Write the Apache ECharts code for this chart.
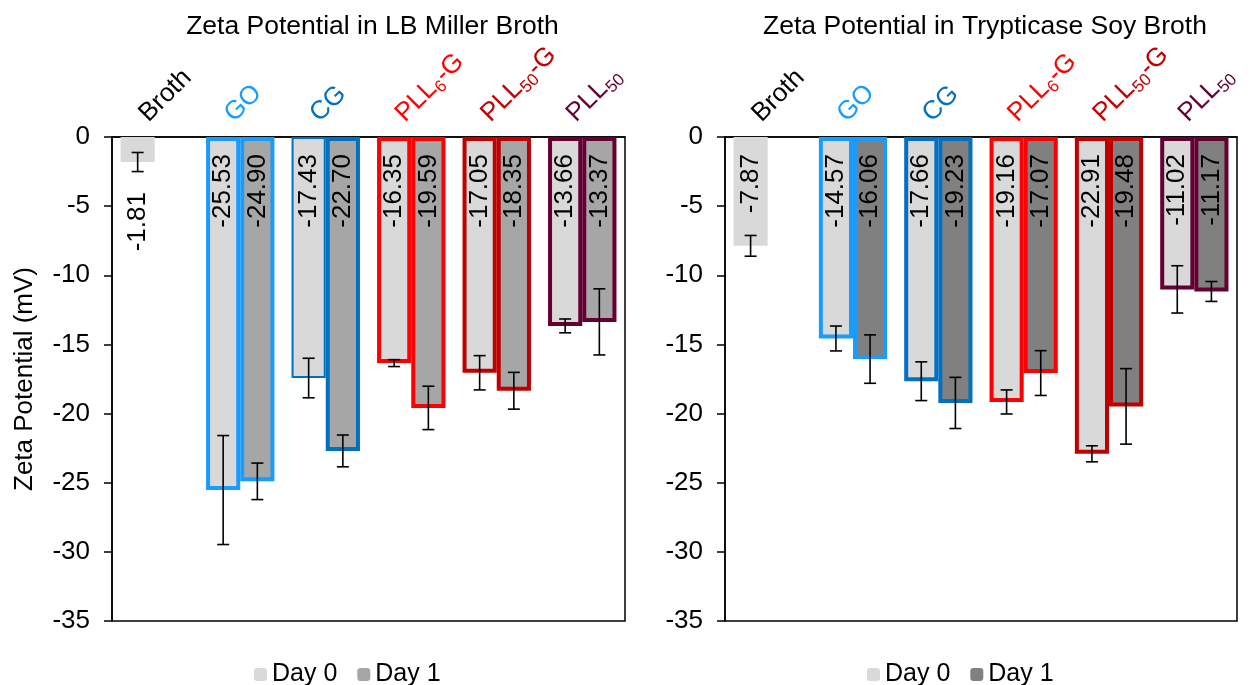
<!DOCTYPE html>
<html>
<head>
<meta charset="utf-8">
<script src="https://cdn.jsdelivr.net/npm/echarts@6/dist/echarts.min.js"></script>
<style>
html,body{margin:0;padding:0;background:#fff;}
#chart{width:1252px;height:685px;}
</style>
</head>
<body>
<div id="chart"></div>
<script>
// ---- data ----
const categories = ['Broth', 'GO', 'CG', 'PLL6-G', 'PLL50-G', 'PLL50'];
const lbDay0 = [-1.81, -25.53, -17.43, -16.35, -17.05, -13.66];
const lbDay1 = [null, -24.90, -22.70, -19.59, -18.35, -13.37];
const lbErr0 = [0.69, 3.94, 1.43, 0.25, 1.24, 0.50];
const lbErr1 = [null, 1.32, 1.15, 1.57, 1.33, 2.39];
const tsbDay0 = [-7.87, -14.57, -17.66, -19.16, -22.91, -11.02];
const tsbDay1 = [null, -16.06, -19.23, -17.07, -19.48, -11.17];
const tsbErr0 = [0.75, 0.90, 1.40, 0.87, 0.58, 1.71];
const tsbErr1 = [null, 1.75, 1.85, 1.62, 2.73, 0.72];
const yMin = -35, yMax = 0, yStep = 5;
const titles = ['Zeta Potential in LB Miller Broth', 'Zeta Potential in Trypticase Soy Broth'];
const yName = 'Zeta Potential (mV)';
const legendNames = ['Day 0', 'Day 1'];

// ---- styles ----
const FONT = 'Liberation Sans, Arial, sans-serif';
const catColors = ['#000000', '#199BFF', '#0070C0', '#FF0000', '#C00000', '#660033'];
const day0Fill = '#D9D9D9';
const day1Fills = ['#A6A6A6', '#808080'];

function barItems(values, fill, chartIdx, dayIdx) {
  return values.map((v, i) => {
    if (v == null) return null;
    const item = { value: v, itemStyle: { color: fill } };
    if (i > 0) {
      let bw = 4;
      if (chartIdx === 0 && dayIdx === 0 && i === 2) bw = 2;
      item.itemStyle.borderColor = catColors[i];
      item.itemStyle.borderWidth = bw;
    }
    if (chartIdx === 0 && i === 0) {
      item.label = { position: 'bottom', distance: 30 };
    }
    return item;
  });
}

function errData(values, errs) {
  const out = [];
  values.forEach((v, i) => { if (v != null && errs[i] != null) out.push([i, v, errs[i]]); });
  return out;
}

function errRender(offset) {
  return function (params, api) {
    const cat = api.value(0), v = api.value(1), e = api.value(2);
    const band = api.size([1, 0])[0];
    const a = api.coord([cat, v + e]);
    const b = api.coord([cat, v - e]);
    const x = a[0] + offset * band;
    const cap = 6;
    const st = { stroke: '#000', lineWidth: 1.6 };
    return {
      type: 'group',
      children: [
        { type: 'line', shape: { x1: x, y1: a[1], x2: x, y2: b[1] }, style: st },
        { type: 'line', shape: { x1: x - cap, y1: a[1], x2: x + cap, y2: a[1] }, style: st },
        { type: 'line', shape: { x1: x - cap, y1: b[1], x2: x + cap, y2: b[1] }, style: st }
      ]
    };
  };
}

const rich = {};
const keys = ['c0', 'c1', 'c2', 'c3', 'c4', 'c5'];
keys.forEach((k, i) => {
  rich[k] = { color: catColors[i], fontSize: 26, fontFamily: FONT, lineHeight: 32, verticalAlign: 'middle' };
  rich[k + 's'] = { color: catColors[i], fontSize: 17, fontFamily: FONT, lineHeight: 16, verticalAlign: 'bottom' };
});
function catFormatter(val) {
  const i = categories.indexOf(val);
  const k = keys[i];
  const m = val.match(/^([A-Za-z]+)(\d+)(.*)$/);
  if (m) {
    let s = '{' + k + '|' + m[1] + '}{' + k + 's|' + m[2] + '}';
    if (m[3]) s += '{' + k + '|' + m[3] + '}';
    return s;
  }
  return '{' + k + '|' + val + '}';
}

const grids = [
  { left: 112, top: 137, width: 513, height: 484 },
  { left: 725, top: 137, width: 512, height: 484 }
];

const option = {
  animation: false,
  backgroundColor: '#fff',
  title: titles.map((t, i) => ({
    text: t,
    left: grids[i].left + grids[i].width / 2 - 1,
    top: 8,
    textAlign: 'center',
    textStyle: { fontSize: 26.5, fontWeight: 'normal', color: '#000', fontFamily: FONT }
  })),
  grid: grids.map(g => Object.assign({ show: true, borderColor: '#000', borderWidth: 1.5, backgroundColor: 'transparent' }, g)),
  xAxis: grids.map((g, i) => ({
    type: 'category',
    gridIndex: i,
    position: 'top',
    data: categories,
    axisLine: { show: true, lineStyle: { color: '#000', width: 1.5 } },
    axisTick: { show: false },
    axisLabel: {
      interval: 0, rotate: 45, margin: 8, align: 'left', verticalAlign: 'bottom',
      formatter: catFormatter, rich: rich
    }
  })),
  yAxis: grids.map((g, i) => ({
    type: 'value',
    gridIndex: i,
    min: yMin, max: yMax, interval: yStep,
    name: i === 0 ? yName : '',
    nameLocation: 'middle',
    nameGap: 74,
    nameRotate: 90,
    nameTextStyle: { fontSize: 26, color: '#000', fontFamily: FONT },
    splitLine: { show: false },
    axisLine: { show: true, lineStyle: { color: '#000', width: 1.5 } },
    axisTick: { show: true, inside: false, length: 8, lineStyle: { color: '#000', width: 1.5 } },
    axisLabel: { fontSize: 26, color: '#000', fontFamily: FONT, margin: 22 }
  })),
  legend: [
    {
      data: legendNames, left: 249, top: 657, itemWidth: 13, itemHeight: 13, itemGap: 20,
      selectedMode: false, itemStyle: { borderWidth: 0 },
      textStyle: { fontSize: 25, color: '#000', fontFamily: FONT }
    },
    {
      data: legendNames.map(n => 'TSB ' + n), left: 862, top: 657, itemWidth: 13, itemHeight: 13, itemGap: 20,
      selectedMode: false, itemStyle: { borderWidth: 0 },
      formatter: n => n.replace('TSB ', ''),
      textStyle: { fontSize: 25, color: '#000', fontFamily: FONT }
    }
  ],
  series: []
};

const sets = [
  { d0: lbDay0, d1: lbDay1, e0: lbErr0, e1: lbErr1, prefix: '' },
  { d0: tsbDay0, d1: tsbDay1, e0: tsbErr0, e1: tsbErr1, prefix: 'TSB ' }
];
const barLabel = {
  show: true, position: 'insideTop', distance: 17, rotate: 90, align: 'right', verticalAlign: 'middle',
  fontSize: 26, color: '#000', fontFamily: FONT,
  formatter: p => Number(p.value).toFixed(2)
};
sets.forEach((s, ci) => {
  option.series.push({
    name: s.prefix + legendNames[0], type: 'bar', xAxisIndex: ci, yAxisIndex: ci,
    barGap: '0%', barCategoryGap: '20%', itemStyle: { color: day0Fill },
    label: barLabel, data: barItems(s.d0, day0Fill, ci, 0), z: 2
  });
  option.series.push({
    name: s.prefix + legendNames[1], type: 'bar', xAxisIndex: ci, yAxisIndex: ci,
    barGap: '0%', barCategoryGap: '20%', itemStyle: { color: day1Fills[ci] },
    label: barLabel, data: barItems(s.d1, day1Fills[ci], ci, 1), z: 3
  });
  option.series.push({
    type: 'custom', name: 'err0', xAxisIndex: ci, yAxisIndex: ci, z: 10,
    renderItem: errRender(-0.2), encode: { x: 0, y: 1 }, data: errData(s.d0, s.e0)
  });
  option.series.push({
    type: 'custom', name: 'err1', xAxisIndex: ci, yAxisIndex: ci, z: 10,
    renderItem: errRender(0.2), encode: { x: 0, y: 1 }, data: errData(s.d1, s.e1)
  });
});

const chart = echarts.init(document.getElementById('chart'), null, { renderer: 'canvas' });
chart.setOption(option);
</script>
</body>
</html>
